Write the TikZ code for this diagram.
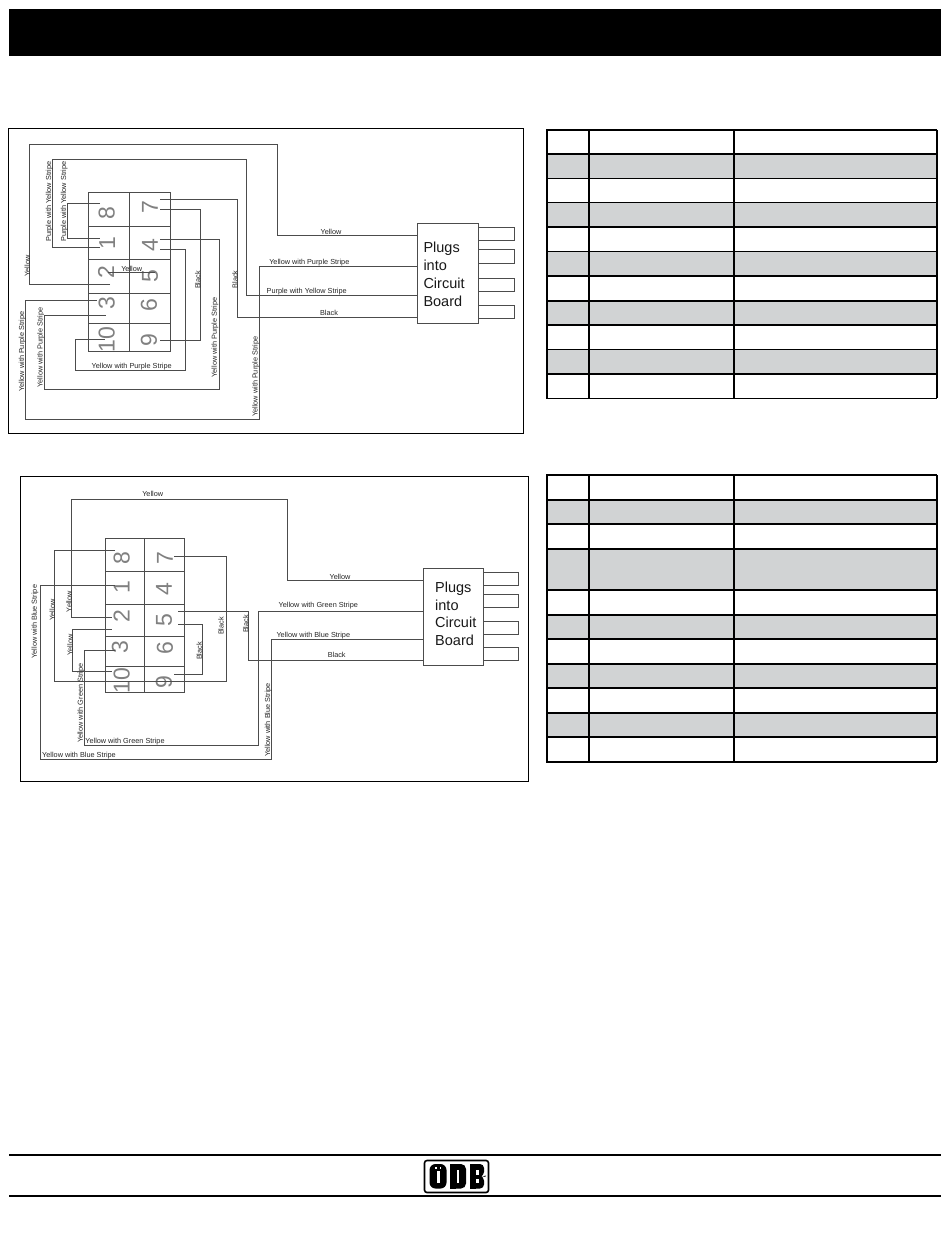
\documentclass[tikz,border=0pt]{standalone}
\usepackage{fontspec}
\setmainfont{Liberation Sans}
\definecolor{rowgrey}{HTML}{D1D3D4}
\definecolor{wirec}{gray}{0.3}
\tikzset{
 x=1pt,y=-1pt,
 frame/.style={draw=black,line width=1pt,fill=white,inner sep=0,outer sep=0},
 cellbox/.style={draw=wirec,line width=.9pt,inner sep=0,outer sep=0},
 wire/.style={draw=wirec,line width=1pt},
 tab/.style={draw=wirec,line width=1pt},
 plugbox/.style={draw=wirec,line width=1pt,fill=white,inner sep=0,outer sep=0},
 plugtext/.style={anchor=base west,inner sep=0,font=\fontsize{14.5}{17}\selectfont,text=black!90},
 wlab/.style={inner sep=0,font=\fontsize{7.3}{8}\selectfont,text=black!85},
 vlab/.style={wlab,rotate=90},
 pin/.style={inner sep=0,rotate=90,font=\fontsize{23}{24}\selectfont,text=black!50},
 tline/.style={line width=1.6pt,draw=black},
}
\begin{document}
\begin{tikzpicture}
\useasboundingbox[fill=white] (0,0) rectangle (950,1241);
% header and footer
\fill[black] (9,9) rectangle (941,56);
\draw[line width=2pt] (9,1155) -- (941,1155);
\draw[line width=2pt] (9,1196) -- (941,1196);
% frames
\node[frame,minimum width=515pt,minimum height=304pt] (frameA) at (266,281) {};
\node[frame,minimum width=508pt,minimum height=305.5pt] (frameB) at (274.3,628.8) {};

% ---------- tables
\foreach \ya/\yb in {154/178.7,202.7/227,251.7/275.7,300.7/324.7,349.3/374,
                     499.7/524,549/590,615/639,664/687.7,712.7/737}
  \fill[rowgrey] (546.7,\ya) rectangle (936.7,\yb);
\foreach \yy in {130,154,178.7,202.7,227,251.7,275.7,300.7,324.7,349.3,374,398.3,
                 475,499.7,524,549,590,615,639,664,687.7,712.7,737,761.7}
  \draw[tline] (546,\yy) -- (937.4,\yy);
\foreach \xx in {546.7,589,733.7,936.7}{
  \draw[tline] (\xx,130) -- (\xx,398.3);
  \draw[tline] (\xx,475) -- (\xx,761.7);
}

% ---------- diagram A: connector cells
\foreach \nm/\xc/\ya/\yb in {a8/109/192.5/226.7,a7/150.2/192.5/226.7,a1/109/226.7/259.3,a4/150.2/226.7/259.3,
  a2/109/259.3/293.3,a5/150.2/259.3/293.3,a3/109/293.3/323.3,a6/150.2/293.3/323.3,a10/109/323.3/351,a9/150.2/323.3/351}{
  \pgfmathsetmacro{\cy}{(\ya+\yb)/2}
  \pgfmathsetmacro{\hh}{\yb-\ya}
  \node[cellbox,minimum width=41pt,minimum height=\hh pt] (\nm) at (\xc,\cy) {};
}
\node[pin] (na8) at (106.7,213.3) {8};
\node[pin] (na7) at (150,207.3) {7};
\node[pin] (na1) at (107.3,242.7) {1};
\node[pin] (na4) at (150,245) {4};
\node[pin] (na2) at (106,271.7) {2};
\node[pin] (na5) at (150,276) {5};
\node[pin] (na3) at (106.7,302.7) {3};
\node[pin] (na6) at (149,305) {6};
\node[pin] (na10) at (106.7,339.3) {10};
\node[pin] (na9) at (149,340) {9};

% plug A
\node[plugbox,minimum width=61pt,minimum height=100pt] (plugA) at (447.8,273.3) {};
\node[plugtext] (pa1) at (423.3,253) {Plugs};
\node[plugtext] (pa2) at (423.3,270.7) {into};
\node[plugtext] (pa3) at (423.3,288.3) {Circuit};
\node[plugtext] (pa4) at (423.3,306.5) {Board};
\draw[tab] (plugA.east |- 0,227.3) -- (514.3,227.3) -- (514.3,240.7) -- (plugA.east |- 0,240.7);
\draw[tab] (plugA.east |- 0,250) -- (514.3,250) -- (514.3,263.3) -- (plugA.east |- 0,263.3);
\draw[tab] (plugA.east |- 0,278.3) -- (514.3,278.3) -- (514.3,291.7) -- (plugA.east |- 0,291.7);
\draw[tab] (plugA.east |- 0,305) -- (514.3,305) -- (514.3,318.3) -- (plugA.east |- 0,318.3);

% wires A
\coordinate (wa2) at (110,284);
\coordinate (wa1o) at (100,247.7);
\coordinate (wa8) at (100,203.3);
\coordinate (wa1i) at (100,239);
\coordinate (wa7a) at (160,199.3);
\coordinate (wa7b) at (160,209.3);
\coordinate (wa9) at (160,340);
\coordinate (wa4a) at (160,239.3);
\coordinate (wa4b) at (160,249.3);
\coordinate (wa6l) at (106,315.7);
\coordinate (wa10) at (105,339);
\coordinate (wa3) at (96.7,300);
\coordinate (wa2s) at (108,272.5);
\coordinate (wa5s) at (155,272.5);
\draw[wire] (wa2) -- (29,284) -- (29,145) -- (277,145) -- (277,236) -- (plugA.west |- 0,236);
\draw[wire] (wa1o) -- (52.7,247.7) -- (52.7,160) -- (246,160) -- (246,295) -- (plugA.west |- 0,295);
\draw[wire] (wa8) -- (67.7,203.3) -- (67.7,239) -- (wa1i);
\draw[wire] (wa7a) -- (237.7,199.3) -- (237.7,317.7) -- (plugA.west |- 0,317.7);
\draw[wire] (wa7b) -- (200.7,209.3) -- (200.7,340) -- (wa9);
\draw[wire] (wa4a) -- (219,239.3) -- (219,389.3) -- (44,389.3) -- (44,315.7) -- (wa6l);
\draw[wire] (wa4b) -- (185.7,249.3) -- (185.7,370.7) -- (75.7,370.7) -- (75.7,339) -- (wa10);
\draw[wire] (wa3) -- (25.7,300) -- (25.7,419.3) -- (259.3,419.3) -- (259.3,266) -- (plugA.west |- 0,266);
\draw[wire] (wa2s) -- (wa5s);

% labels A
\node[vlab] (la1) at (27.3,266) {Yellow};
\node[vlab] (la2) at (49.3,201.7) {Purple with Yellow Stripe};
\node[vlab] (la3) at (64.3,201.7) {Purple with Yellow Stripe};
\node[wlab] (la4) at (131.7,269) {Yellow};
\node[vlab] (la5) at (197.7,280) {Black};
\node[vlab] (la6) at (235,279.3) {Black};
\node[wlab] (la7) at (131.7,366.7) {Yellow with Purple Stripe};
\node[vlab] (la8) at (22.3,351.7) {Yellow with Purple Stripe};
\node[vlab] (la9) at (40.7,347.3) {Yellow with Purple Stripe};
\node[vlab] (la10) at (215,337.3) {Yellow with Purple Stripe};
\node[vlab] (la11) at (255.7,376.7) {Yellow with Purple Stripe};
\node[wlab] (la12) at (331,231.7) {Yellow};
\node[wlab] (la13) at (309.3,262.3) {Yellow with Purple Stripe};
\node[wlab] (la14) at (306.7,291.3) {Purple with Yellow Stripe};
\node[wlab] (la15) at (329,312.7) {Black};

% ---------- diagram B: connector cells
\foreach \nm/\xc/\ya/\yb in {b8/124.7/538.7/571.7,b7/164.3/538.7/571.7,b1/124.7/571.7/604.3,b4/164.3/571.7/604.3,
  b2/124.7/604.3/636.7,b5/164.3/604.3/636.7,b3/124.7/636.7/666,b6/164.3/636.7/666,b10/124.7/666/692.7,b9/164.3/666/692.7}{
  \pgfmathsetmacro{\cy}{(\ya+\yb)/2}
  \pgfmathsetmacro{\hh}{\yb-\ya}
  \node[cellbox,minimum width=39.5pt,minimum height=\hh pt] (\nm) at (\xc,\cy) {};
}
\node[pin] (nb8) at (121.7,558.3) {8};
\node[pin] (nb7) at (165,558.3) {7};
\node[pin] (nb1) at (121.7,587.3) {1};
\node[pin] (nb4) at (164,589) {4};
\node[pin] (nb2) at (121.7,615.7) {2};
\node[pin] (nb5) at (164,620) {5};
\node[pin] (nb3) at (120,646.7) {3};
\node[pin] (nb6) at (165,648.3) {6};
\node[pin] (nb10) at (121.7,680.7) {10};
\node[pin] (nb9) at (164,681.7) {9};

% plug B
\node[plugbox,minimum width=60pt,minimum height=96.7pt] (plugB) at (453.3,617.3) {};
\node[plugtext] (pb1) at (435,592.7) {Plugs};
\node[plugtext] (pb2) at (435,610) {into};
\node[plugtext] (pb3) at (435,627.3) {Circuit};
\node[plugtext] (pb4) at (435,645) {Board};
\draw[tab] (plugB.east |- 0,572.3) -- (518.7,572.3) -- (518.7,585.7) -- (plugB.east |- 0,585.7);
\draw[tab] (plugB.east |- 0,594.3) -- (518.7,594.3) -- (518.7,607.3) -- (plugB.east |- 0,607.3);
\draw[tab] (plugB.east |- 0,621) -- (518.7,621) -- (518.7,634.3) -- (plugB.east |- 0,634.3);
\draw[tab] (plugB.east |- 0,647.3) -- (518.7,647.3) -- (518.7,660.7) -- (plugB.east |- 0,660.7);

% wires B
\coordinate (wb2) at (111.7,617.7);
\coordinate (wb8) at (115,550);
\coordinate (wb7) at (174.3,556);
\coordinate (wb1) at (115,585);
\coordinate (wbxa) at (111.7,629.3);
\coordinate (wbxb) at (111.7,671);
\coordinate (wb3) at (115,650);
\coordinate (wb5a) at (178.3,611);
\coordinate (wb5b) at (178.3,624.3);
\coordinate (wb9) at (174.3,674.3);
\draw[wire] (wb2) -- (71.7,617.7) -- (71.7,499.3) -- (287.3,499.3) -- (287.3,580.7) -- (plugB.west |- 0,580.7);
\draw[wire] (wb8) -- (54,550) -- (54,681) -- (226,681) -- (226,556) -- (wb7);
\draw[wire] (wb1) -- (40,585) -- (40,759.3) -- (271.7,759.3) -- (271.7,639) -- (plugB.west |- 0,639);
\draw[wire] (wbxa) -- (72.7,629.3) -- (72.7,671) -- (wbxb);
\draw[wire] (wb5a) -- (248.3,611) -- (248.3,660) -- (plugB.west |- 0,660);
\draw[wire] (wb3) -- (84,650) -- (84,745.3) -- (258.3,745.3) -- (258.3,611) -- (plugB.west |- 0,611);
\draw[wire] (wb5b) -- (202.7,624.3) -- (202.7,674.3) -- (wb9);

% labels B
\node[wlab] (lb1) at (152.7,494.3) {Yellow};
\node[vlab] (lb2) at (69,601.7) {Yellow};
\node[vlab] (lb3) at (52.3,610) {Yellow};
\node[vlab] (lb4) at (35,621.7) {Yellow with Blue Stripe};
\node[vlab] (lb5) at (70,645) {Yellow};
\node[vlab] (lb6) at (81,703.3) {Yellow with Green Stripe};
\node[wlab] (lb7) at (125,741.3) {Yellow with Green Stripe};
\node[wlab] (lb8) at (79,755.7) {Yellow with Blue Stripe};
\node[vlab] (lb9) at (221,626) {Black};
\node[vlab] (lb10) at (199.3,651) {Black};
\node[vlab] (lb11) at (245.7,624) {Black};
\node[vlab] (lb12) at (268.3,720) {Yellow with Blue Stripe};
\node[wlab] (lb13) at (340,577.3) {Yellow};
\node[wlab] (lb14) at (318.3,606) {Yellow with Green Stripe};
\node[wlab] (lb15) at (313.3,635.7) {Yellow with Blue Stripe};
\node[wlab] (lb16) at (336.7,655) {Black};

% ---------- logo
\draw[line width=1.6pt,rounded corners=2.5pt] (424.5,1160.5) rectangle (488.5,1192.5);
\fill[black,rounded corners=6pt] (429.5,1164) rectangle (446.5,1188.5);
\fill[black,rounded corners=5pt] (450,1164) -- (466,1164) -- (466,1188.5) -- (450,1188.5) -- cycle;
\fill[black] (450,1164) rectangle (456,1188.5);
\fill[black,rounded corners=4pt] (470,1164) -- (484,1164) -- (484,1176) -- (482.5,1176.3) -- (484,1176.6) -- (484,1188.5) -- (470,1188.5) -- cycle;
\fill[black] (470,1164) rectangle (476,1188.5);
\fill[white] (436.5,1171) rectangle (439.5,1183);
\fill[white] (435,1166.5) rectangle (436.5,1168.5);
\fill[white] (439.5,1166.5) rectangle (441,1168.5);
\fill[white] (456.5,1170) rectangle (459,1183);
\fill[white] (476,1170) rectangle (478.5,1174.5);
\fill[white] (476,1179) rectangle (478.5,1183);
\end{tikzpicture}
\end{document}
